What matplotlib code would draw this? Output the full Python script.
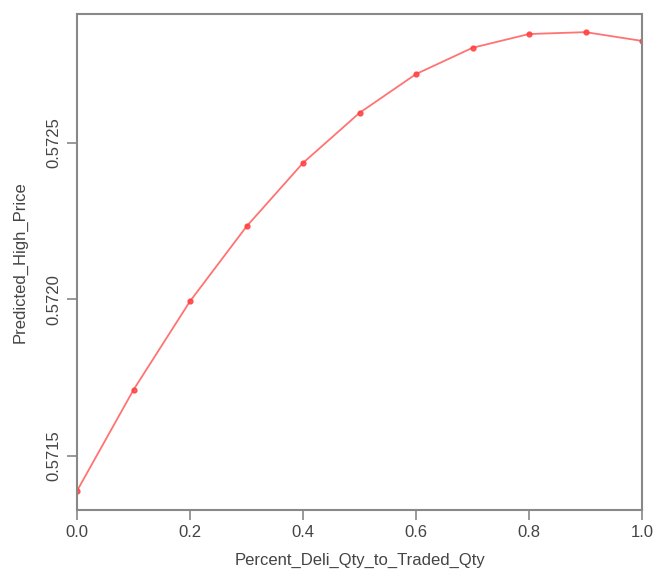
import matplotlib
matplotlib.use("Agg")
import matplotlib.pyplot as plt

x_vals = [0.0, 0.1, 0.2, 0.3, 0.4, 0.5, 0.6, 0.7, 0.8, 0.9, 1.0]
y_vals = [0.571388, 0.571711, 0.571994, 0.572233, 0.572436, 0.572596,
          0.572720, 0.572804, 0.572848, 0.572854, 0.572826]
x_ticks = [0.0, 0.2, 0.4, 0.6, 0.8, 1.0]
y_ticks = [0.5715, 0.5720, 0.5725]

plt.rcParams['font.family'] = ['Liberation Sans', 'DejaVu Sans']

fig = plt.figure(figsize=(6.55, 5.72), dpi=100)
ax = fig.add_axes([77/655, 1-510/572, (642-77)/655, (510-14)/572])

ax.plot(x_vals, y_vals, color='#ff5a5a', lw=1.3, alpha=0.85,
        marker='o', ms=3.5, mfc='#ff4040', mec='#ff4040')

ax.set_xlim(0.0, 1.0)
ax.set_ylim(0.571327, 0.572912)
ax.set_xticks(x_ticks)
ax.set_xticklabels([f"{t:.1f}" for t in x_ticks])
ax.set_yticks(y_ticks)
ax.set_yticklabels([f"{t:.4f}" for t in y_ticks], rotation=90, va='center')

for s in ax.spines.values():
    s.set_color('#888888')
    s.set_linewidth(1.5)
ax.tick_params(direction='out', length=7, width=1.2, color='#888888',
               labelcolor='#444444', labelsize=12, pad=4)
ax.set_xlabel('Percent_Deli_Qty_to_Traded_Qty', fontsize=12, color='#444444', labelpad=9)
ax.set_ylabel('Predicted_High_Price', fontsize=12, color='#444444', labelpad=14)

fig.savefig('out.png', dpi=100)
